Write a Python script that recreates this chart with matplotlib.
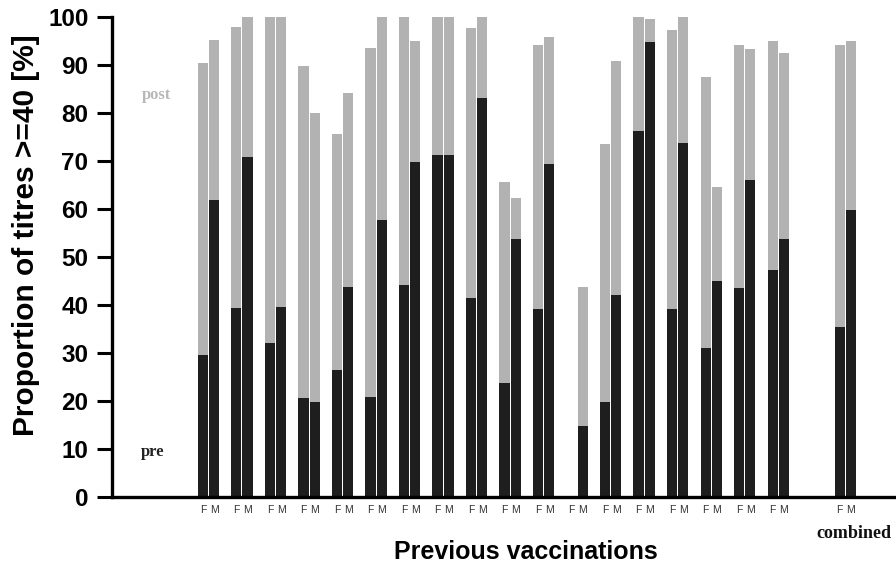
import numpy as np
import matplotlib
matplotlib.use("Agg")
import matplotlib.pyplot as plt

# proportion (%) of titres >= 40 before (pre) and after (post) vaccination,
# females (F) and males (M), per number of previous vaccinations + combined
slots = list(range(18)) + [19]
pre_F = [29.6, 39.4, 32.0, 20.6, 26.5, 20.8, 44.2, 71.3, 41.4, 23.7,
         39.2, np.nan, 19.7, 76.2, 39.2, 31.0, 43.6, 47.4, 35.4]
post_F = [90.4, 98.0, 100, 89.9, 75.7, 93.6, 100, 100, 97.8, 65.7,
          94.1, np.nan, 73.5, 100, 97.3, 87.6, 94.1, 95.1, 94.1]
pre_M = [61.9, 70.8, 39.6, 19.7, 43.8, 57.8, 69.9, 71.3, 83.1, 53.8,
         69.4, 14.8, 42.1, 94.8, 73.7, 45.1, 66.0, 53.7, 59.8]
post_M = [95.3, 100, 100, 80.1, 84.1, 100, 95.1, 100, 100, 62.2,
          95.9, 43.8, 90.9, 99.7, 100, 64.5, 93.3, 92.6, 95.1]
yticks = [0, 10, 20, 30, 40, 50, 60, 70, 80, 90, 100]

dark = "#1e1e1e"
light = "#b2b2b2"
off = 0.165
width = 0.30

fig = plt.figure(figsize=(8.96, 5.69), dpi=100)
ax = fig.add_axes([0.125, 0.1265, 0.875, 0.8435])

x = np.array(slots, dtype=float)
xf = x - off
xm = x + off

ax.bar(xf, post_F, width=width, color=light, zorder=2)
ax.bar(xm, post_M, width=width, color=light, zorder=2)
ax.bar(xf, pre_F, width=width, color=dark, zorder=3)
ax.bar(xm, pre_M, width=width, color=dark, zorder=3)

ax.set_xlim(-2.88, 20.52)
ax.set_ylim(0, 100)

for s in ["top", "right"]:
    ax.spines[s].set_visible(False)
for s in ["left", "bottom"]:
    ax.spines[s].set_linewidth(2.4)
    ax.spines[s].set_zorder(4)

ax.set_yticks(yticks)
ax.set_yticklabels([str(v) for v in yticks], fontsize=17.5,
                   fontweight="bold", family="Liberation Sans")
ax.tick_params(axis="y", direction="out", length=11, width=2.2, pad=6)

xt = np.concatenate([xf, xm])
ax.set_xticks(xt)
ax.set_xticklabels(["F"] * len(xf) + ["M"] * len(xm), fontsize=7.5,
                   family="Liberation Sans", color="#333333")
ax.tick_params(axis="x", length=0, pad=6)

ax.set_ylabel("Proportion of titres >=40 [%]", fontsize=21.5,
              fontweight="bold", family="Liberation Sans")
ax.yaxis.set_label_coords(-0.092, 0.546)
ax.set_xlabel("Previous vaccinations", fontsize=18, fontweight="bold",
              family="Liberation Sans")
ax.xaxis.set_label_coords(0.528, -0.09)

ax.text(-1.54, 83.75, "post", fontsize=12, fontweight="bold",
        family="Liberation Serif", color="#b8b8b8", ha="center", va="center")
ax.text(-1.66, 9.4, "pre", fontsize=12, fontweight="bold",
        family="Liberation Serif", color="#222222", ha="center", va="center")
ax.text(19.27, -7.6, "combined", fontsize=13, fontweight="bold",
        family="Liberation Serif", color="#111111", ha="center", va="center",
        clip_on=False)

fig.savefig("out.png", dpi=100)
